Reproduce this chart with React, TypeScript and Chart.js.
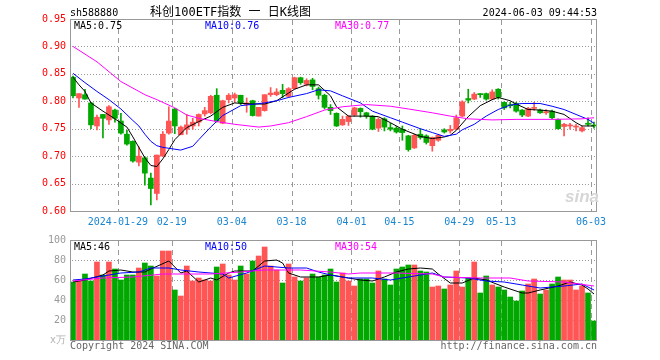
import React, { useEffect, useRef } from 'react';
import { Chart, registerables } from 'chart.js';

Chart.register(...registerables);

// ---------- data ----------
const dates = [
  '2024-01-17','2024-01-18','2024-01-19','2024-01-22','2024-01-23','2024-01-24','2024-01-25','2024-01-26','2024-01-29','2024-01-30',
  '2024-01-31','2024-02-01','2024-02-02','2024-02-05','2024-02-06','2024-02-07','2024-02-08','2024-02-19','2024-02-20','2024-02-21',
  '2024-02-22','2024-02-23','2024-02-26','2024-02-27','2024-02-28','2024-02-29','2024-03-01','2024-03-04','2024-03-05','2024-03-06',
  '2024-03-07','2024-03-08','2024-03-11','2024-03-12','2024-03-13','2024-03-14','2024-03-15','2024-03-18','2024-03-19','2024-03-20',
  '2024-03-21','2024-03-22','2024-03-25','2024-03-26','2024-03-27','2024-03-28','2024-03-29','2024-04-01','2024-04-02','2024-04-03',
  '2024-04-08','2024-04-09','2024-04-10','2024-04-11','2024-04-12','2024-04-15','2024-04-16','2024-04-17','2024-04-18','2024-04-19',
  '2024-04-22','2024-04-23','2024-04-24','2024-04-25','2024-04-26','2024-04-29','2024-04-30','2024-05-06','2024-05-07','2024-05-08',
  '2024-05-09','2024-05-10','2024-05-13','2024-05-14','2024-05-15','2024-05-16','2024-05-17','2024-05-20','2024-05-21','2024-05-22',
  '2024-05-23','2024-05-24','2024-05-27','2024-05-28','2024-05-29','2024-05-30','2024-05-31','2024-06-03',
];

const tickDates = ['2024-01-29','2024-02-19','2024-03-04','2024-03-18','2024-04-01','2024-04-15','2024-04-29','2024-05-13','2024-06-03'];
const tickTexts = ['2024-01-29','02-19','03-04','03-18','04-01','04-15','04-29','05-13','06-03'];

const opens = [
  0.844,0.806,0.812,0.797,0.755,0.776,0.766,0.784,0.764,0.740,
  0.727,0.689,0.697,0.660,0.632,0.700,0.742,0.786,0.739,0.749,
  0.755,0.762,0.777,0.779,0.811,0.760,0.803,0.806,0.811,0.794,
  0.801,0.773,0.783,0.812,0.812,0.820,0.809,0.823,0.843,0.831,
  0.839,0.823,0.811,0.789,0.778,0.757,0.763,0.775,0.787,0.779,
  0.773,0.751,0.768,0.752,0.751,0.749,0.737,0.715,0.740,0.737,
  0.719,0.729,0.748,0.746,0.749,0.773,0.805,0.804,0.814,0.814,
  0.804,0.822,0.798,0.793,0.796,0.784,0.773,0.787,0.784,0.779,
  0.782,0.767,0.754,0.755,0.753,0.746,0.760,0.756,
];
const highs = [
  0.846,0.814,0.822,0.798,0.775,0.776,0.792,0.786,0.778,0.747,
  0.728,0.717,0.699,0.669,0.702,0.745,0.790,0.787,0.755,0.776,
  0.769,0.777,0.789,0.811,0.823,0.802,0.814,0.815,0.811,0.806,
  0.802,0.789,0.812,0.825,0.823,0.831,0.825,0.844,0.844,0.841,
  0.842,0.826,0.813,0.794,0.779,0.773,0.774,0.789,0.788,0.780,
  0.774,0.770,0.770,0.760,0.754,0.755,0.738,0.740,0.750,0.739,
  0.735,0.739,0.750,0.756,0.775,0.801,0.822,0.816,0.814,0.815,
  0.821,0.823,0.799,0.798,0.798,0.785,0.789,0.798,0.786,0.785,
  0.784,0.768,0.760,0.760,0.758,0.755,0.770,0.762,
];
const lows = [
  0.806,0.789,0.804,0.750,0.748,0.733,0.758,0.762,0.740,0.720,
  0.689,0.682,0.647,0.611,0.620,0.700,0.740,0.741,0.739,0.740,
  0.749,0.755,0.773,0.777,0.762,0.759,0.797,0.798,0.794,0.780,
  0.773,0.773,0.782,0.809,0.810,0.807,0.807,0.822,0.831,0.828,
  0.821,0.804,0.786,0.776,0.754,0.756,0.756,0.773,0.771,0.769,
  0.748,0.745,0.746,0.746,0.742,0.729,0.709,0.714,0.731,0.722,
  0.709,0.727,0.742,0.742,0.748,0.772,0.797,0.803,0.807,0.802,
  0.803,0.804,0.785,0.788,0.780,0.772,0.772,0.784,0.778,0.776,
  0.768,0.749,0.737,0.749,0.746,0.744,0.755,0.751,
];
const closes = [
  0.810,0.814,0.804,0.757,0.771,0.769,0.790,0.769,0.742,0.722,
  0.691,0.700,0.669,0.641,0.702,0.740,0.764,0.755,0.753,0.757,
  0.762,0.776,0.783,0.809,0.764,0.801,0.811,0.812,0.797,0.797,
  0.774,0.789,0.812,0.815,0.817,0.814,0.823,0.843,0.834,0.838,
  0.827,0.811,0.789,0.783,0.755,0.767,0.773,0.788,0.781,0.773,
  0.749,0.767,0.753,0.749,0.744,0.743,0.712,0.738,0.734,0.725,
  0.734,0.738,0.744,0.749,0.770,0.799,0.802,0.813,0.812,0.804,
  0.817,0.807,0.788,0.792,0.782,0.775,0.787,0.788,0.779,0.781,
  0.770,0.750,0.758,0.756,0.754,0.752,0.758,0.755,
];

const volumes = [
  58,59,66,59,78,65,78,71,60,65,
  65,72,77,74,64,89,89,50,44,74,
  59,62,60,59,73,76,65,60,74,66,
  79,84,93,74,70,57,76,63,59,62,
  66,63,65,71,58,67,59,54,61,61,
  57,69,61,55,71,73,75,75,69,68,
  53,54,51,55,69,53,62,78,47,64,
  55,53,50,43,39,49,56,61,46,50,
  56,63,60,60,50,54,47,19,
];

// moving-average lines (index -> value)
const ma5Idx = [0,1,2,3,5,7,9,10,11,12,13,14,15,16,17,19,21,23,25,27,30,32,34,36,37,39,41,43,44,46,49,51,53,55,58,60,62,63,64,66,68,70,71,73,74,76,78,80,82,84,85,87];
const ma5Val = [0.844,0.830,0.818,0.797,0.782,0.768,0.753,0.735,0.716,0.697,0.683,0.681,0.695,0.712,0.730,0.752,0.763,0.773,0.789,0.797,0.795,0.795,0.801,0.815,0.822,0.830,0.830,0.810,0.790,0.773,0.773,0.772,0.761,0.749,0.736,0.732,0.735,0.738,0.747,0.772,0.792,0.803,0.807,0.801,0.795,0.785,0.784,0.782,0.776,0.761,0.755,0.755];
const ma10Idx = [0,2,4,6,8,10,11,12,13,14,15,18,20,21,23,25,28,32,34,36,39,41,43,45,48,50,53,55,58,60,62,64,65,67,69,71,73,75,78,80,82,84,86,87];
const ma10Val = [0.851,0.834,0.818,0.803,0.786,0.765,0.755,0.740,0.727,0.719,0.716,0.711,0.718,0.730,0.753,0.774,0.792,0.797,0.801,0.807,0.814,0.821,0.819,0.810,0.797,0.782,0.770,0.762,0.750,0.743,0.736,0.740,0.748,0.758,0.773,0.785,0.793,0.796,0.796,0.791,0.785,0.776,0.767,0.760];
const ma30Idx = [0,4,8,12,14,17,19,21,24,27,31,33,36,39,42,45,49,53,56,60,63,66,70,74,80,85,87];
const ma30Val = [0.900,0.872,0.836,0.812,0.803,0.788,0.775,0.769,0.763,0.758,0.753,0.755,0.761,0.772,0.784,0.790,0.794,0.791,0.786,0.779,0.773,0.768,0.766,0.767,0.767,0.768,0.770];

const vma5Idx = [0,2,5,6,8,10,12,13,16,18,19,21,23,24,26,27,30,32,34,35,36,38,41,43,46,48,50,52,54,56,58,60,61,63,65,67,69,72,75,76,78,81,83,85,86,87];
const vma5Val = [58,60,65,69,70,68,68,71,79,67,69,58,62,60,67,69,69,79,80,77,67,63,63,65,62,60,59,63,68,71,72,71,66,57,57,62,60,53,47,47,50,54,58,55,51,46];
const vma10Idx = [0,2,6,8,11,13,16,18,21,25,26,29,32,36,39,41,43,46,50,53,57,60,62,66,69,72,75,78,82,85,87];
const vma10Val = [60,61,65,67,68,72,72,70,68,66,62,67,74,72,72,68,65,62,62,60,64,67,63,62,59,58,55,52,54,56,50];
const vma30Idx = [0,5,10,15,19,23,28,32,38,43,46,48,54,60,62,68,73,76,82,87];
const vma30Val = [59,62,63,66,66,66,68,70,70,68,66,67,67,66,63,62,62,59,58,54];

const priceTicks = [0.6, 0.65, 0.7, 0.75, 0.8, 0.85, 0.9, 0.95];
const volumeTicks = [0, 20, 40, 60, 80, 100];

// ---------- helpers ----------
const UP = '#ff5555';
const DOWN = '#00a800';
const GRID = '#999999';
const FRAME = '#999999';
const MONO = '"DejaVu Sans Mono", monospace';

const sparse = (idx: number[], val: number[]) => {
  const arr: (number | null)[] = dates.map(() => null);
  idx.forEach((k, j) => { arr[k] = val[j]; });
  return arr;
};
const candleColors = closes.map((c, i) => (c >= opens[i] ? UP : DOWN));
const tickIndices = tickDates.map((d) => dates.indexOf(d));
const tickLabelAt = (i: number) => {
  const k = tickDates.indexOf(dates[i]);
  return k >= 0 ? tickTexts[k] : '';
};

// dotted value lines and dashed date lines, painted as small filled segments,
// positioned through the chart's own scales
const drawGrid = (chart: any, values: number[]) => {
  const { ctx, chartArea, scales } = chart;
  const xs = scales.x;
  const ys = scales.y;
  if (!xs || !ys || !chartArea) return;
  const left = Math.round(chartArea.left);
  const right = Math.round(chartArea.right);
  const top = Math.round(chartArea.top);
  const bottom = Math.round(chartArea.bottom);
  const half = (xs.getPixelForValue(1) - xs.getPixelForValue(0)) / 2;
  ctx.save();
  ctx.globalAlpha = 1;
  ctx.globalCompositeOperation = 'source-over';
  ctx.fillStyle = GRID;
  values.forEach((v) => {
    const y = Math.round(ys.getPixelForValue(v));
    if (!isFinite(y) || y <= top + 1 || y >= bottom - 1) return;
    for (let x = left + 2; x < right; x += 3) ctx.fillRect(x, y, 1, 1);
  });
  tickIndices.forEach((i) => {
    const x = Math.round(xs.getPixelForValue(i) - half);
    if (!isFinite(x)) return;
    for (let y = top + 1; y < bottom; y += 9) ctx.fillRect(x, y, 1, Math.min(5, bottom - y));
  });
  ctx.restore();
};

const makeFramePlugin = (values: number[]) => ({
  id: 'frame',
  beforeDatasetsDraw(chart: any) {
    drawGrid(chart, values);
  },
  afterDraw(chart: any) {
    const { ctx, chartArea } = chart;
    ctx.save();
    ctx.strokeStyle = FRAME;
    ctx.lineWidth = 1;
    ctx.setLineDash([]);
    ctx.strokeRect(chartArea.left + 0.5, chartArea.top + 0.5, chartArea.right - chartArea.left - 1, chartArea.bottom - chartArea.top);
    ctx.restore();
  },
});

const xScale = (showLabels: boolean, height: number) => ({
  type: 'category' as const,
  offset: true,
  grid: { display: false, offset: true, drawTicks: false },
  border: { display: false },
  ticks: {
    display: showLabels,
    autoSkip: false,
    maxRotation: 0,
    minRotation: 0,
    padding: 5,
    labelOffset: -3,
    color: '#1a86d0',
    font: { family: MONO, size: 10 },
    callback: (_v: any, i: number) => tickLabelAt(i),
  },
  afterFit: (s: any) => { s.height = height; },
});

const lineDs = (data: (number | null)[], color: string) => ({
  type: 'line' as const,
  data,
  borderColor: color,
  backgroundColor: 'rgba(0,0,0,0)',
  fill: false,
  borderWidth: 1,
  pointRadius: 0,
  spanGaps: true,
  tension: 0,
  order: 1,
});

function PriceChart() {
  const ref = useRef<HTMLCanvasElement>(null);
  useEffect(() => {
    const chart = new Chart(ref.current as HTMLCanvasElement, {
      type: 'bar',
      data: {
        labels: dates,
        datasets: [
          {
            type: 'bar',
            data: lows.map((l, i) => [l, highs[i]]),
            backgroundColor: candleColors,
            barThickness: 1,
            grouped: false,
            order: 3,
          } as any,
          {
            type: 'bar',
            data: opens.map((o, i) => [o, closes[i]]),
            backgroundColor: candleColors,
            barThickness: 5,
            minBarLength: 1,
            grouped: false,
            order: 2,
          } as any,
          lineDs(sparse(ma30Idx, ma30Val), '#ff00ff'),
          lineDs(sparse(ma10Idx, ma10Val), '#0000ff'),
          lineDs(sparse(ma5Idx, ma5Val), '#000000'),
        ],
      },
      options: {
        animation: false,
        responsive: false,
        devicePixelRatio: 1,
        layout: { padding: { left: 0, right: 63, top: 19, bottom: 0 } },
        plugins: { legend: { display: false }, tooltip: { enabled: false } },
        scales: {
          x: xScale(true, 19) as any,
          y: {
            min: 0.6,
            max: 0.95,
            afterBuildTicks: (s: any) => { s.ticks = priceTicks.map((v) => ({ value: v })); },
            grid: { display: false, drawTicks: false },
            border: { display: false },
            ticks: {
              color: '#ff0000',
              padding: 4,
              font: { family: MONO, size: 10 },
              callback: (v: any) => Number(v).toFixed(2),
            },
            afterFit: (s: any) => { s.width = 70; },
          } as any,
        },
      },
      plugins: [makeFramePlugin(priceTicks)],
    });
    return () => chart.destroy();
  }, []);
  return <canvas ref={ref} width={660} height={230} style={{ position: 'absolute', left: 0, top: 0, width: 660, height: 230 }} />;
}

function VolumeChart() {
  const ref = useRef<HTMLCanvasElement>(null);
  useEffect(() => {
    const chart = new Chart(ref.current as HTMLCanvasElement, {
      type: 'bar',
      data: {
        labels: dates,
        datasets: [
          {
            type: 'bar',
            data: volumes,
            backgroundColor: candleColors,
            barThickness: 5,
            grouped: false,
            order: 2,
          } as any,
          lineDs(sparse(vma30Idx, vma30Val), '#ff00ff'),
          lineDs(sparse(vma10Idx, vma10Val), '#0000ff'),
          lineDs(sparse(vma5Idx, vma5Val), '#000000'),
        ],
      },
      options: {
        animation: false,
        responsive: false,
        devicePixelRatio: 1,
        layout: { padding: { left: 0, right: 63, top: 10, bottom: 0 } },
        plugins: { legend: { display: false }, tooltip: { enabled: false } },
        scales: {
          x: xScale(false, 20) as any,
          y: {
            min: 0,
            max: 100,
            afterBuildTicks: (s: any) => { s.ticks = volumeTicks.map((v) => ({ value: v })); },
            grid: { display: false, drawTicks: false },
            border: { display: false },
            ticks: {
              color: (c: any) => (c.tick && c.tick.value === 0 ? '#b0b0b0' : '#999999'),
              padding: 4,
              font: { family: MONO, size: 10 },
              callback: (v: any) => (Number(v) === 0 ? 'x万' : String(v)),
            },
            afterFit: (s: any) => { s.width = 70; },
          } as any,
        },
      },
      plugins: [makeFramePlugin(volumeTicks)],
    });
    return () => chart.destroy();
  }, []);
  return <canvas ref={ref} width={660} height={130} style={{ position: 'absolute', left: 0, top: 230, width: 660, height: 130 }} />;
}

const Txt = ({ x, y, text, color, size = 10, right = false, family = MONO, style = {} }: any) => (
  <div
    style={{
      position: 'absolute',
      left: right ? undefined : x,
      right: right ? 660 - x : undefined,
      top: y - 7,
      height: 14,
      lineHeight: '14px',
      fontSize: size,
      color,
      fontFamily: family,
      whiteSpace: 'pre',
      pointerEvents: 'none',
      ...style,
    }}
  >
    {text}
  </div>
);

export default function App() {
  return (
    <div style={{ position: 'absolute', left: 0, top: 0, width: 660, height: 360, background: '#fff', overflow: 'hidden' }}>
      <PriceChart />
      <VolumeChart />
      <Txt x={70} y={13} text="sh588880" color="#000" />
      <Txt x={150} y={12} text="科创100ETF指数 一 日K线图" color="#000" size={12} family={'"DejaVu Sans Mono", "Noto Sans CJK SC", sans-serif'} />
      <Txt x={597} y={13} text="2024-06-03 09:44:53" color="#000" right />
      <Txt x={74} y={26} text="MA5:0.75" color="#000" />
      <Txt x={205} y={26} text="MA10:0.76" color="#0000ff" />
      <Txt x={335} y={26} text="MA30:0.77" color="#ff00ff" />
      <Txt x={74} y={247} text="MA5:46" color="#000" />
      <Txt x={205} y={247} text="MA10:50" color="#0000ff" />
      <Txt x={335} y={247} text="MA30:54" color="#ff00ff" />
      <Txt x={70} y={346} text="Copyright 2024 SINA.COM" color="#666" />
      <Txt x={597} y={346} text="http://finance.sina.com.cn" color="#666" right />
      <Txt x={565} y={197} text="sina" color="#d6d6d6" size={17} family={'"Liberation Sans", sans-serif'} style={{ fontStyle: 'italic', fontWeight: 'bold' }} />
    </div>
  );
}
